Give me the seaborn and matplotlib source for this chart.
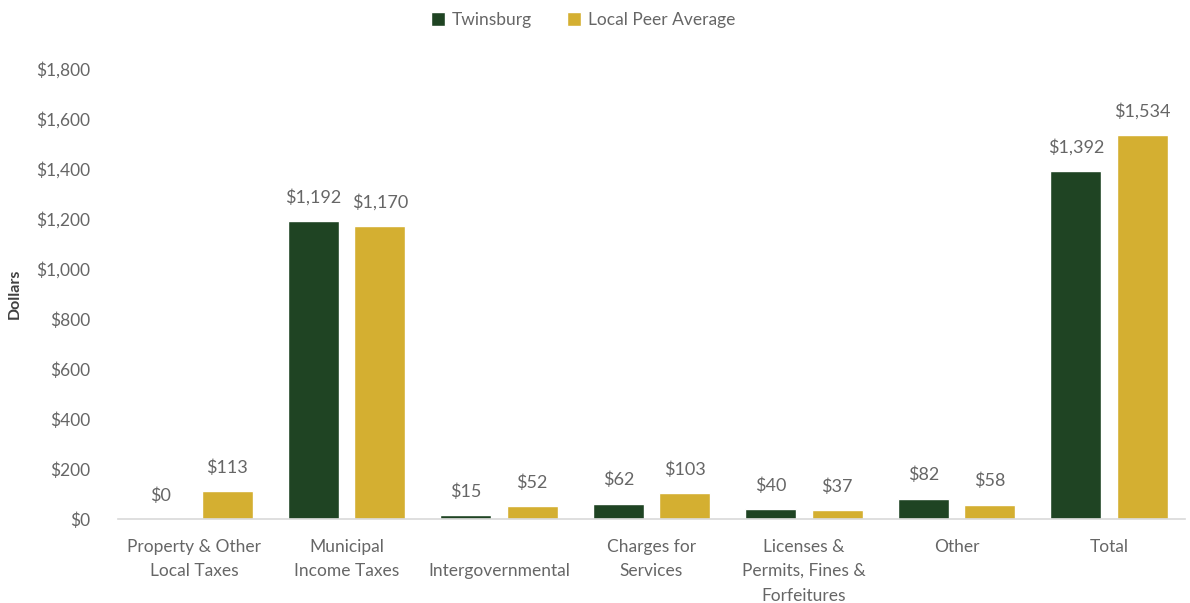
import matplotlib
matplotlib.use("Agg")
import matplotlib.pyplot as plt
import seaborn as sns
import pandas as pd

# categories and values
categories = [
    "Property & Other\nLocal Taxes",
    "Municipal\nIncome Taxes",
    "\nIntergovernmental",
    "Charges for\nServices",
    "Licenses &\nPermits, Fines &\nForfeitures",
    "Other",
    "Total",
]
series_names = ["Twinsburg", "Local Peer Average"]
twinsburg = [0, 1192, 15, 62, 40, 82, 1392]
peer_avg = [113, 1170, 52, 103, 37, 58, 1534]
y_ticks = [0, 200, 400, 600, 800, 1000, 1200, 1400, 1600, 1800]

colors = ["#1F4423", "#D4AF31"]
text_gray = "#666666"

# long format table for seaborn
df = pd.DataFrame({
    "category": categories * 2,
    "series": [series_names[0]] * len(categories) + [series_names[1]] * len(categories),
    "value": twinsburg + peer_avg,
})

sns.set_theme(style="white")
plt.rcParams["font.family"] = ["Lato", "DejaVu Sans"]

fig = plt.figure(figsize=(11.9, 6.03), dpi=100)
ax = fig.add_axes([0.099, 0.139, 0.897, 0.747])

sns.barplot(
    data=df, x="category", y="value", hue="series",
    palette=colors, saturation=1, width=0.87, gap=0.23, ax=ax,
    order=categories, hue_order=series_names,
)

# value labels above each bar
for cont in ax.containers:
    ax.bar_label(cont, fmt="${:,.0f}", padding=11, fontsize=13, color=text_gray)

ax.set_ylim(0, 1800)
ax.set_xlim(-0.5, 6.5)
ax.set_yticks(y_ticks)
ax.set_yticklabels(["${:,.0f}".format(v) for v in y_ticks])
ax.tick_params(axis="y", labelsize=12.5, colors=text_gray, length=0, pad=20)
ax.tick_params(axis="x", labelsize=12.5, colors=text_gray, length=0, pad=14)
for lbl in ax.get_xticklabels():
    lbl.set_verticalalignment("top")
    lbl.set_linespacing(1.65)

ax.set_xlabel("")
ax.set_ylabel("Dollars", fontsize=11.5, fontweight="bold", color="#404040", labelpad=10)

sns.despine(ax=ax, left=True)
ax.spines["bottom"].set_color("#d9d9d9")
ax.spines["bottom"].set_linewidth(1.2)

# legend at top
handles, labels = ax.get_legend_handles_labels()
ax.get_legend().remove()
fig.legend(
    handles, labels, loc="center", bbox_to_anchor=(0.49, 0.967), ncol=2,
    frameon=False, fontsize=12.5, labelcolor=text_gray,
    handlelength=0.8, handleheight=0.8, handletextpad=0.4, columnspacing=2.0,
)

fig.savefig("out.png", dpi=100)
